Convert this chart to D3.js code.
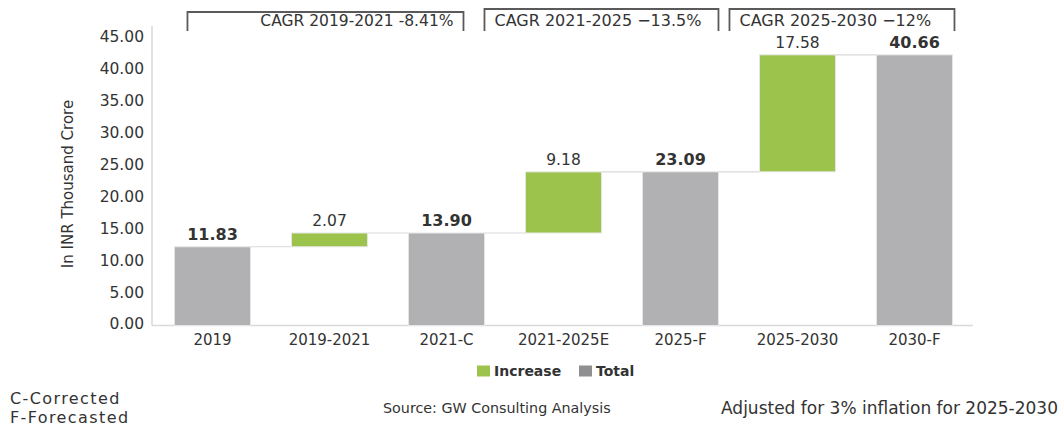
<!DOCTYPE html>
<html lang="en">
<head>
    <meta charset="UTF-8">
    <title>Waterfall</title>
    <script src="https://cdn.jsdelivr.net/npm/d3@7"></script>
    <style>
        body { margin: 0; background: #fff; }
        text { font-family: "DejaVu Sans", sans-serif; fill: #333; }
    </style>
</head>
<body>
<script>
    // data
    const categories = ["2019", "2019-2021", "2021-C", "2021-2025E", "2025-F", "2025-2030", "2030-F"];
    const values = [11.83, 2.07, 13.90, 9.18, 23.09, 17.58, 40.66];
    const kinds = ["Total", "Increase", "Total", "Increase", "Total", "Increase", "Total"];
    const yTicks = [0, 5, 10, 15, 20, 25, 30, 35, 40, 45];

    const cagrText = ["CAGR 2019-2021 -8.41%", "CAGR 2021-2025 \u221213.5%", "CAGR 2025-2030 \u221212%"];
    const cagrFrom = ["2019", "2021-C", "2025-F"];
    const cagrTo = ["2021-C", "2025-F", "2030-F"];

    const w = 1064, h = 426;
    const colors = {Increase: "#9cc34b", Total: "#b1b1b3"};

    // build start / end of every bar
    let running = 0;
    const bars = categories.map(function (c, i) {
        let lo, hi;
        if (kinds[i] === "Total") {
            lo = 0; hi = values[i]; running = values[i];
        } else {
            lo = running; hi = running + values[i]; running = hi;
        }
        return {cat: c, kind: kinds[i], value: values[i], lo: lo, hi: hi};
    });

    const svg = d3.select("body").append("svg")
        .attr("width", w)
        .attr("height", h);

    const x = d3.scaleBand()
        .domain(categories)
        .range([154, 973])
        .paddingInner(0.35)
        .paddingOuter(0.175);

    // bars scale
    const y = d3.scaleLinear().domain([0, 45]).range([325.5, 26]);
    // tick label scale (labels sit a bit inside the plot in the original)
    const yLab = d3.scaleLinear().domain([0, 45]).range([324, 37]);

    // y axis line + baseline
    svg.append("line")
        .attr("x1", 152).attr("x2", 152)
        .attr("y1", y(45)).attr("y2", y(0))
        .attr("stroke", "#d9d9d9").attr("stroke-width", 1.5);
    svg.append("line")
        .attr("x1", 152).attr("x2", 973)
        .attr("y1", y(0)).attr("y2", y(0))
        .attr("stroke", "#d9d9d9").attr("stroke-width", 1.5);

    const yAxis = svg.append("g")
        .attr("transform", "translate(152,0)")
        .call(d3.axisLeft(yLab).tickValues(yTicks).tickSize(0).tickPadding(8)
            .tickFormat(d3.format(".2f")));
    yAxis.select(".domain").remove();
    yAxis.selectAll("text")
        .attr("font-size", "15.5px")
        .attr("font-family", "DejaVu Sans, sans-serif")
        .attr("fill", "#333");

    const xAxis = svg.append("g")
        .attr("transform", "translate(0," + y(0) + ")")
        .call(d3.axisBottom(x).tickSize(0).tickPadding(9));
    xAxis.select(".domain").remove();
    xAxis.selectAll("text")
        .attr("font-size", "15px")
        .attr("font-family", "DejaVu Sans, sans-serif")
        .attr("fill", "#333");

    // y title
    svg.append("text")
        .attr("transform", "translate(73,184) rotate(-90)")
        .attr("text-anchor", "middle")
        .attr("font-size", "15px")
        .text("In INR Thousand Crore");

    // connectors between bars
    svg.selectAll("line.conn")
        .data(bars.slice(0, -1))
        .enter()
        .append("line")
        .attr("class", "conn")
        .attr("x1", function (d) { return x(d.cat) + x.bandwidth(); })
        .attr("x2", function (d, i) { return x(categories[i + 1]); })
        .attr("y1", function (d) { return y(d.hi); })
        .attr("y2", function (d) { return y(d.hi); })
        .attr("stroke", "#d9d9d9")
        .attr("stroke-width", 1.2);

    // bars
    svg.selectAll("rect.bar")
        .data(bars)
        .enter()
        .append("rect")
        .attr("class", "bar")
        .attr("x", function (d) { return x(d.cat); })
        .attr("width", x.bandwidth())
        .attr("y", function (d) { return y(d.hi); })
        .attr("height", function (d) { return y(d.lo) - y(d.hi); })
        .attr("fill", function (d) { return colors[d.kind]; })
        .attr("stroke", "#e6e6e6")
        .attr("stroke-width", 1);

    // value labels
    svg.selectAll("text.val")
        .data(bars)
        .enter()
        .append("text")
        .attr("class", "val")
        .attr("x", function (d) { return x(d.cat) + x.bandwidth() / 2; })
        .attr("y", function (d) { return y(d.hi) - 7; })
        .attr("text-anchor", "middle")
        .attr("font-size", function (d) { return d.kind === "Total" ? "16px" : "15.5px"; })
        .attr("font-weight", function (d) { return d.kind === "Total" ? "bold" : "normal"; })
        .attr("fill", function (d) { return d.kind === "Total" ? "#111" : "#333"; })
        .text(function (d) { return d.value.toFixed(2); });

    // CAGR brackets
    const leftOff = [13, 76, 87];
    const rightOff = [55, 76, 78];
    const topY = [12, 9, 9];
    cagrText.forEach(function (t, i) {
        const x1 = x(cagrFrom[i]) + leftOff[i];
        const x2 = x(cagrTo[i]) + rightOff[i];
        svg.append("path")
            .attr("d", "M" + x1 + "," + 31 + "V" + topY[i] + "H" + x2 + "V" + 31)
            .attr("fill", "none")
            .attr("stroke", "#5a5a5a")
            .attr("stroke-width", 1.8);
        svg.append("text")
            .attr("x", i === 0 ? x2 - 10 : x1 + 10)
            .attr("y", 26)
            .attr("text-anchor", i === 0 ? "end" : "start")
            .attr("font-size", i === 0 ? "15.5px" : "16px")
            .text(t);
    });

    // legend
    const legend = svg.append("g").attr("transform", "translate(477,371)");
    const legendKeys = ["Increase", "Total"];
    const legendX = [0, 102];
    legendKeys.forEach(function (k, i) {
        legend.append("rect")
            .attr("x", legendX[i]).attr("y", -5.5)
            .attr("width", 13).attr("height", 11)
            .attr("fill", k === "Total" ? "#8f8f91" : colors[k]);
        legend.append("text")
            .attr("x", legendX[i] + 17).attr("y", 5)
            .attr("font-size", "14px")
            .attr("font-weight", "bold")
            .attr("fill", "#111")
            .text(k);
    });

    // notes
    svg.append("text").attr("x", 10).attr("y", 404).attr("font-size", "16px")
        .attr("letter-spacing", "1.4px").text("C-Corrected");
    svg.append("text").attr("x", 10).attr("y", 423).attr("font-size", "16px")
        .attr("letter-spacing", "1.4px").text("F-Forecasted");
    svg.append("text").attr("x", 383).attr("y", 413).attr("font-size", "14.3px").text("Source: GW Consulting Analysis");
    svg.append("text").attr("x", 1058).attr("y", 414).attr("text-anchor", "end")
        .attr("font-size", "17px").text("Adjusted for 3% inflation for 2025-2030");
</script>
</body>
</html>
